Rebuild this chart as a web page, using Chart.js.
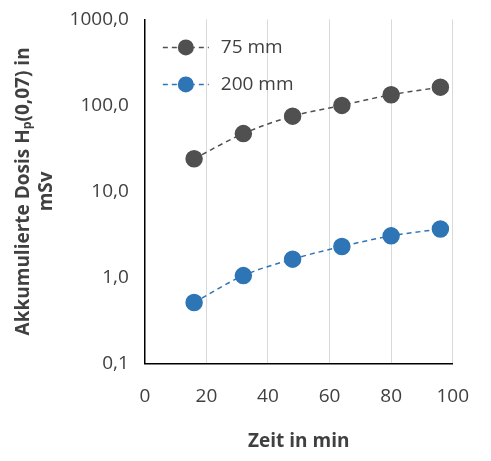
<!DOCTYPE html>
<html><head><meta charset="utf-8">
<script src="https://cdn.jsdelivr.net/npm/chart.js@4"></script>
<style>body{margin:0;background:#fff}#w{width:491px;height:461px}</style>
</head><body><div id="w"><canvas id="c"></canvas></div>
<script>
const timesMin=[16,32,48,64,80,96];
const dose75=[24,47,75,100,133,163];
const dose200=[0.51,1.05,1.63,2.29,3.04,3.65];
const seriesNames=["75 mm","200 mm"];
const yTicks=[0.1,1,10,100,1000];
const colors=["#505050","#2E75B6"];
const FONT="'Open Sans', 'DejaVu Sans', sans-serif";
const legendPlugin={id:'lg',afterDraw(ch){
  const c=ch.ctx,a=ch.chartArea;
  seriesNames.forEach((n,i)=>{
    const y=a.top+28+i*37,x0=a.left+18;
    c.save();c.strokeStyle=colors[i];c.lineWidth=1.5;c.setLineDash([5,4]);
    c.beginPath();c.moveTo(x0,y);c.lineTo(x0+46,y);c.stroke();c.setLineDash([]);
    c.fillStyle=colors[i];c.beginPath();c.arc(x0+23,y,8,0,Math.PI*2);c.fill();
    c.fillStyle='#404040';c.font='19px '+FONT;c.textBaseline='middle';c.fillText(n,x0+58,y);c.restore();
  });
}};
new Chart(document.getElementById('c'),{type:'line',
data:{datasets:[dose75,dose200].map((d,i)=>({label:seriesNames[i],data:d.map((v,j)=>({x:timesMin[j],y:v})),
 borderColor:colors[i],backgroundColor:colors[i],borderDash:[5,4],borderWidth:1.5,pointRadius:8,pointHoverRadius:8,tension:0.4,cubicInterpolationMode:'monotone'}))},
options:{responsive:true,maintainAspectRatio:false,animation:false,
 layout:{padding:{top:17,right:26,left:8,bottom:4}},
 plugins:{legend:{display:false},tooltip:{enabled:false}},
 scales:{
  x:{type:'linear',min:0,max:100,ticks:{stepSize:20,color:'#404040',padding:22,font:{family:FONT,size:19}},
   grid:{color:'#d9d9d9',drawTicks:false},border:{color:'#000',width:1.5},
   title:{display:true,text:'Zeit in min',color:'#404040',font:{family:FONT,size:19,weight:'bold'},padding:{top:0}}},
  y:{type:'logarithmic',min:0.1,max:1000,afterBuildTicks(s){s.ticks=yTicks.map(v=>({value:v}));},
   ticks:{color:'#404040',padding:8,font:{family:FONT,size:19},callback:v=>v.toFixed(1).replace('.',',')},
   grid:{display:false},border:{color:'#000',width:1.5},
   title:{display:true,text:['Akkumulierte Dosis Hₚ(0,07) in','mSv'],color:'#404040',font:{family:FONT,size:19,weight:'bold'},padding:{bottom:4}}}
 }},plugins:[legendPlugin]});
</script></body></html>
